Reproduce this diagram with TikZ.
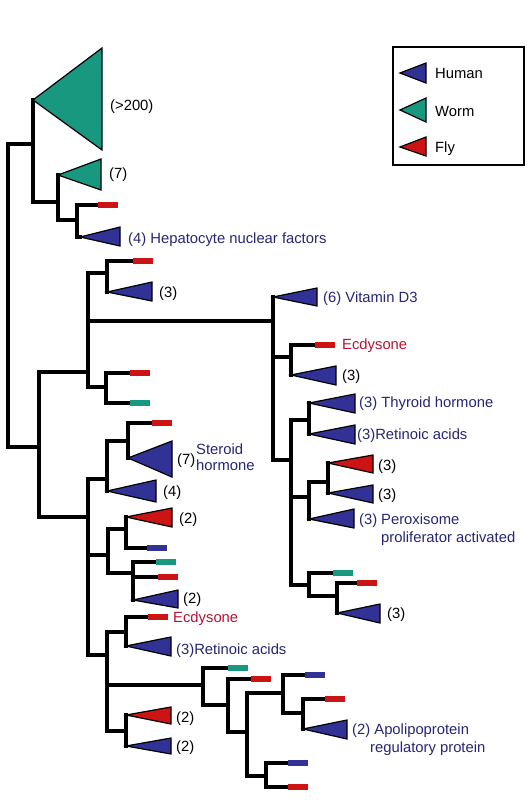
\documentclass[tikz,border=0pt]{standalone}
\usepackage{fontspec}
\setmainfont{Liberation Sans}
\definecolor{hblue}{RGB}{50,50,150}
\definecolor{wgreen}{RGB}{24,152,126}
\definecolor{fred}{RGB}{205,20,20}
\definecolor{txtblue}{RGB}{38,38,115}
\definecolor{txtred}{RGB}{180,20,55}
\newcommand\cladetri[5]{\filldraw[tri,fill=#1] (#2) -- (#3,#4) -- (#3,#5) -- cycle;}
\newcommand\leafbar[2]{\fill[#1] ([yshift=3pt]#2) rectangle ([xshift=20pt,yshift=-3pt]#2);}
\begin{document}
\begin{tikzpicture}[x=1pt,y=-1pt,
  tree/.style={line width=3.6pt,line cap=rect,line join=miter},
  tri/.style={draw=black,line width=1.2pt,line join=miter},
  lab/.style={anchor=base west,inner sep=0pt,font=\fontsize{14.8}{16}\selectfont},
  nlab/.style={lab,text=black},
  blab/.style={lab,text=txtblue},
  rlab/.style={lab,text=txtred}]
\useasboundingbox[fill=white] (0,0) rectangle (532,807);
% ---- internal nodes and leaves ----
\coordinate (R) at (8,447);
\coordinate (A) at (33,144);   \coordinate (wA) at (33,100);
\coordinate (A2) at (58,202);  \coordinate (wB) at (58,175);
\coordinate (A3) at (77,220);  \coordinate (b1) at (98,205);  \coordinate (hnf) at (80,237);
\coordinate (B) at (39,447);
\coordinate (C) at (88,372);
\coordinate (C1) at (107,273); \coordinate (c1b) at (133,261); \coordinate (c1t) at (107,292);
\coordinate (C3) at (106,387); \coordinate (c3r) at (130,373); \coordinate (c3g) at (130,403);
\coordinate (C2) at (273,321); \coordinate (vit) at (273,297);
\coordinate (E) at (291,357);  \coordinate (eb) at (315,345); \coordinate (et) at (291,375);
\coordinate (F) at (291,460);
\coordinate (G) at (309,420);  \coordinate (thy) at (309,403); \coordinate (ret) at (309,434);
\coordinate (H) at (309,497);  \coordinate (H1) at (328,482); \coordinate (per) at (309,519);
\coordinate (h1r) at (328,463); \coordinate (h1b) at (328,493);
\coordinate (I) at (309,585);  \coordinate (ig) at (333,573);
\coordinate (I1) at (337,596); \coordinate (i1r) at (357,583); \coordinate (i1t) at (337,613);
\coordinate (D) at (88,517);
\coordinate (J) at (107,479);  \coordinate (J1) at (128,441); \coordinate (jt) at (107,491);
\coordinate (j1r) at (152,423); \coordinate (ste) at (128,458);
\coordinate (K) at (108,555);
\coordinate (K1) at (126,529); \coordinate (k1t) at (126,517); \coordinate (k1b) at (147,548);
\coordinate (K2) at (133,573); \coordinate (k2g) at (156,562); \coordinate (k2r) at (158,577); \coordinate (k2t) at (133,600);
\coordinate (L) at (107,655);
\coordinate (L1) at (126,632); \coordinate (l1r) at (148,617); \coordinate (l1t) at (126,646);
\coordinate (L3) at (126,731); \coordinate (l3r) at (126,715); \coordinate (l3b) at (126,746);
\coordinate (M) at (203,685);  \coordinate (mg) at (228,668);
\coordinate (N) at (228,705);  \coordinate (nr) at (251,679);
\coordinate (O) at (247,732);
\coordinate (P) at (283,693);  \coordinate (pb) at (305,675);
\coordinate (P1) at (303,713); \coordinate (p1r) at (325,699); \coordinate (apo) at (303,729);
\coordinate (Q) at (266,776);  \coordinate (qb) at (288,763); \coordinate (qr) at (288,787);
% ---- branches ----
\foreach \p/\c in {R/A,R/B,A/wA,A/A2,A2/wB,A2/A3,A3/b1,A3/hnf,
  B/C,B/D,C/C1,C/C2,C/C3,C1/c1b,C1/c1t,C3/c3r,C3/c3g,
  C2/vit,C2/E,C2/F,E/eb,E/et,F/G,F/H,F/I,G/thy,G/ret,H/H1,H/per,H1/h1r,H1/h1b,
  I/ig,I/I1,I1/i1r,I1/i1t,
  D/J,D/K,D/L,J/J1,J/jt,J1/j1r,J1/ste,K/K1,K/K2,K1/k1t,K1/k1b,K2/k2g,K2/k2r,K2/k2t,
  L/L1,L/M,L/L3,L1/l1r,L1/l1t,L3/l3r,L3/l3b,M/mg,M/N,N/nr,N/O,O/P,O/Q,P/pb,P/P1,
  P1/p1r,P1/apo,Q/qb,Q/qr}
  \draw[tree] (\p) |- (\c);
% ---- clades ----
\cladetri{wgreen}{wA}{102}{48}{150}
\cladetri{wgreen}{wB}{101}{159}{190}
\cladetri{hblue}{hnf}{120}{227}{246}
\cladetri{hblue}{c1t}{152}{282}{301}
\cladetri{hblue}{vit}{317}{288}{306}
\cladetri{hblue}{et}{336}{366}{385}
\cladetri{hblue}{thy}{355}{394}{413}
\cladetri{hblue}{ret}{355}{425}{444}
\cladetri{fred}{h1r}{373}{455}{473}
\cladetri{hblue}{h1b}{373}{485}{503}
\cladetri{hblue}{per}{354}{509}{528}
\cladetri{hblue}{i1t}{380}{604}{623}
\cladetri{hblue}{ste}{172}{441}{477}
\cladetri{hblue}{jt}{156}{480}{502}
\cladetri{fred}{k1t}{172}{508}{527}
\cladetri{hblue}{k2t}{178}{590}{608}
\cladetri{hblue}{l1t}{171}{637}{656}
\cladetri{fred}{l3r}{171}{707}{724}
\cladetri{hblue}{l3b}{171}{738}{754}
\cladetri{hblue}{apo}{347}{720}{739}
% ---- single genes ----
\leafbar{fred}{b1}
\leafbar{fred}{c1b}
\leafbar{fred}{c3r}
\leafbar{wgreen}{c3g}
\leafbar{fred}{eb}
\leafbar{wgreen}{ig}
\leafbar{fred}{i1r}
\leafbar{fred}{j1r}
\leafbar{hblue}{k1b}
\leafbar{wgreen}{k2g}
\leafbar{fred}{k2r}
\leafbar{fred}{l1r}
\leafbar{wgreen}{mg}
\leafbar{fred}{nr}
\leafbar{hblue}{pb}
\leafbar{fred}{p1r}
\leafbar{hblue}{qb}
\leafbar{fred}{qr}
% ---- labels ----
\node[nlab] (t1) at (110,110) {(>200)};
\node[nlab] (t2) at (109,178) {(7)};
\node[blab] (t3) at (128,243) {(4) Hepatocyte nuclear factors};
\node[nlab] (t4) at (159,297) {(3)};
\node[blab] (t5) at (323,302) {(6) Vitamin D3};
\node[rlab] (t6) at (342,349) {Ecdysone};
\node[nlab] (t7) at (342,380) {(3)};
\node[blab] (t8) at (359,407) {(3) Thyroid hormone};
\node[blab] (t9) at (357,439) {(3)Retinoic acids};
\node[nlab] (t10) at (378,470) {(3)};
\node[nlab] (t11) at (378,499) {(3)};
\node[blab] (t12) at (359,524) {(3)};
\node[blab] (t13) at (381,524) {Peroxisome};
\node[blab] (t14) at (381,542) {proliferator activated};
\node[nlab] (t15) at (387,618) {(3)};
\node[nlab] (t16) at (177,464) {(7)};
\node[blab] (t17) at (196,454) {Steroid};
\node[blab] (t18) at (196,470) {hormone};
\node[nlab] (t19) at (163,496) {(4)};
\node[nlab] (t20) at (179,523) {(2)};
\node[nlab] (t21) at (183,603) {(2)};
\node[rlab] (t22) at (173,622) {Ecdysone};
\node[blab] (t23) at (176,654) {(3)Retinoic acids};
\node[nlab] (t24) at (176,722) {(2)};
\node[nlab] (t25) at (176,751) {(2)};
\node[blab] (t26) at (352,734) {(2) Apolipoprotein};
\node[blab] (t27) at (370,752) {regulatory protein};
% ---- legend ----
\draw[line width=1.8pt] (393,47) rectangle (524,165);
\coordinate (lgH) at (400,73);
\coordinate (lgW) at (400,110);
\coordinate (lgF) at (400,147);
\cladetri{hblue}{lgH}{426}{63}{83}
\cladetri{wgreen}{lgW}{426}{98}{122}
\cladetri{fred}{lgF}{426}{137}{156}
\node[nlab] (lh) at (435,78) {Human};
\node[nlab] (lw) at (435,116) {Worm};
\node[nlab] (lf) at (435,152) {Fly};
\end{tikzpicture}
\end{document}
